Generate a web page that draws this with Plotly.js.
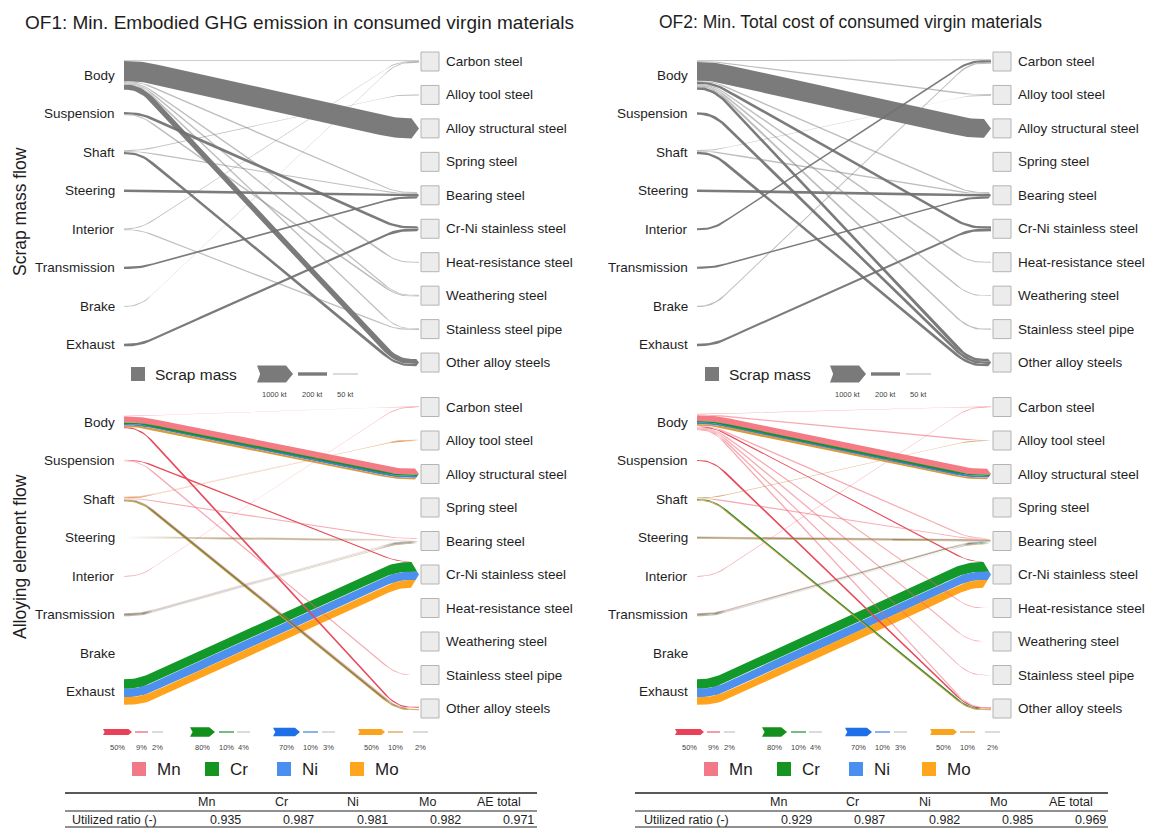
<!DOCTYPE html>
<html>
<head>
<meta charset="utf-8">
<script src="https://cdn.plot.ly/plotly-3.0.1.min.js"></script>
<style>html,body{margin:0;padding:0;background:#ffffff;}#chart{width:1151px;height:828px;}</style>
</head>
<body>
<div id="chart"></div>
<script>
// ================= DATA =================
const sources = ["Body","Suspension","Shaft","Steering","Interior","Transmission","Brake","Exhaust"];
const targets = ["Carbon steel","Alloy tool steel","Alloy structural steel","Spring steel","Bearing steel","Cr-Ni stainless steel","Heat-resistance steel","Weathering steel","Stainless steel pipe","Other alloy steels"];
const elements = ["Mn","Cr","Ni","Mo"];
const panelTitles = ["OF1: Min. Embodied GHG emission in consumed virgin materials","OF2: Min. Total cost of consumed virgin materials"];
const rowTitles = ["Scrap mass flow","Alloying element flow"];

// scrap mass flows, kt  [source, target, value]
const of1Scrap = [
  ["Body","Carbon steel",50],
  ["Body","Alloy structural steel",1180],
  ["Body","Bearing steel",40],
  ["Body","Heat-resistance steel",40],
  ["Body","Weathering steel",40],
  ["Body","Stainless steel pipe",40],
  ["Body","Other alloy steels",300],
  ["Suspension","Cr-Ni stainless steel",140],
  ["Suspension","Weathering steel",50],
  ["Shaft","Alloy tool steel",50],
  ["Shaft","Bearing steel",40],
  ["Shaft","Other alloy steels",130],
  ["Steering","Bearing steel",140],
  ["Interior","Carbon steel",50],
  ["Interior","Stainless steel pipe",40],
  ["Transmission","Bearing steel",130],
  ["Brake","Carbon steel",50],
  ["Exhaust","Cr-Ni stainless steel",160]
];
const of2Scrap = [
  ["Body","Carbon steel",50],
  ["Body","Alloy tool steel",50],
  ["Body","Alloy structural steel",1100],
  ["Body","Bearing steel",60],
  ["Body","Cr-Ni stainless steel",140],
  ["Body","Heat-resistance steel",50],
  ["Body","Weathering steel",50],
  ["Body","Stainless steel pipe",80],
  ["Body","Other alloy steels",150],
  ["Suspension","Other alloy steels",150],
  ["Shaft","Alloy tool steel",50],
  ["Shaft","Bearing steel",50],
  ["Shaft","Other alloy steels",140],
  ["Steering","Bearing steel",150],
  ["Interior","Carbon steel",120],
  ["Transmission","Bearing steel",120],
  ["Brake","Carbon steel",80],
  ["Exhaust","Cr-Ni stainless steel",150]
];

// alloying element flows, % of each element  [source, target, value]
const of1Mn = [
  ["Body","Carbon steel",2],
  ["Body","Alloy structural steel",50],
  ["Body","Other alloy steels",9],
  ["Suspension","Cr-Ni stainless steel",6],
  ["Suspension","Stainless steel pipe",2],
  ["Shaft","Alloy tool steel",2],
  ["Shaft","Bearing steel",2],
  ["Shaft","Other alloy steels",2],
  ["Steering","Bearing steel",3],
  ["Interior","Carbon steel",2],
  ["Transmission","Bearing steel",2]
];
const of1Cr = [
  ["Body","Alloy structural steel",12],
  ["Shaft","Other alloy steels",4],
  ["Steering","Bearing steel",2],
  ["Transmission","Bearing steel",2],
  ["Exhaust","Cr-Ni stainless steel",80]
];
const of1Ni = [
  ["Body","Alloy structural steel",14],
  ["Transmission","Bearing steel",1],
  ["Exhaust","Cr-Ni stainless steel",70]
];
const of1Mo = [
  ["Body","Alloy structural steel",14],
  ["Shaft","Alloy tool steel",5],
  ["Shaft","Other alloy steels",8],
  ["Steering","Bearing steel",2],
  ["Transmission","Bearing steel",3],
  ["Exhaust","Cr-Ni stainless steel",64]
];
const of2Mn = [
  ["Body","Carbon steel",2],
  ["Body","Alloy tool steel",2],
  ["Body","Alloy structural steel",48],
  ["Body","Bearing steel",2],
  ["Body","Cr-Ni stainless steel",5],
  ["Body","Heat-resistance steel",2],
  ["Body","Weathering steel",2],
  ["Body","Stainless steel pipe",2],
  ["Body","Other alloy steels",3],
  ["Suspension","Other alloy steels",9],
  ["Shaft","Bearing steel",2],
  ["Steering","Bearing steel",3],
  ["Interior","Carbon steel",2],
  ["Transmission","Bearing steel",2]
];
const of2Cr = [
  ["Body","Alloy structural steel",12],
  ["Shaft","Other alloy steels",5],
  ["Steering","Bearing steel",2],
  ["Transmission","Bearing steel",2],
  ["Exhaust","Cr-Ni stainless steel",80]
];
const of2Ni = [
  ["Body","Alloy structural steel",14],
  ["Transmission","Bearing steel",1],
  ["Exhaust","Cr-Ni stainless steel",70]
];
const of2Mo = [
  ["Body","Alloy structural steel",14],
  ["Shaft","Alloy tool steel",3],
  ["Shaft","Other alloy steels",9],
  ["Steering","Bearing steel",2],
  ["Transmission","Bearing steel",3],
  ["Exhaust","Cr-Ni stainless steel",64]
];

// legends
const scrapLegendLabel = "Scrap mass";
const scrapLegendValues = [1000, 200, 50];
const scrapLegendTexts = ["1000 kt", "200 kt", "50 kt"];
const mnLegendValues = [50, 9, 2];
const crLegendValues = [80, 10, 4];
const niLegendValues = [70, 10, 3];
const moLegendValues = [50, 10, 2];

// table
const tableColumns = ["Mn","Cr","Ni","Mo","AE total"];
const tableRowLabel = "Utilized ratio (-)";
const of1Utilized = [0.935, 0.987, 0.981, 0.982, 0.971];
const of2Utilized = [0.929, 0.987, 0.982, 0.985, 0.969];

// ================= STYLE / LAYOUT =================
const FONT = "Liberation Sans, Arial, Helvetica, sans-serif";
const TXT = "#1e1e1e";
const W = 1151, H = 828;
const SCRAP_SCALE = 0.017;   // px per kt
const ALLOY_SCALE = 0.12;    // px per %
const elemColors = {
  Mn: {band:"#f47a84", strong:"#e84a5c", light:"rgba(238,100,115,0.55)", legend:"#f27a88", arrow:"#ea4058"},
  Cr: {band:"#12992a", strong:"#1a8f30", light:"rgba(60,120,50,0.75)", legend:"#15941f", arrow:"#13901c"},
  Ni: {band:"#4d90ee", strong:"#3f7fe0", light:"rgba(70,110,200,0.7)", legend:"#4a8ff0", arrow:"#1f6fe8"},
  Mo: {band:"#ffa31c", strong:"#d89a40", light:"rgba(200,150,80,0.8)", legend:"#ffa51e", arrow:"#fba21f"}
};
const panelX = [{xs:124, xt:419, labelR:117}, {xs:697, xt:991, labelR:690}];
const rowY = [{sy0:75, sdy:38.57, ty0:61.5, tdy:33.45}, {sy0:422, sdy:38.57, ty0:407, tdy:33.5}];

const traces = [];
const shapes = [];
const annotations = [];

function ann(text, x, y, o) {
  o = o || {};
  annotations.push({
    text: text, x: x, y: y, xref: "x", yref: "y", showarrow: false,
    xanchor: o.xa || "center", yanchor: o.ya || "middle",
    textangle: o.angle || 0,
    font: {family: FONT, size: o.size || 12.5, color: o.color || TXT}
  });
}

// curve shape: flat - rounded - straight - rounded - flat
const CA = 0.055, CB = 0.075, CR = 0.045, CM = 1 / (1 - CA - CB);
function shapeF(u) {
  if (u <= CA - CR) return [0, 0];
  if (u < CA + CR) { const d = u - CA + CR; return [CM * d * d / (4 * CR), CM * d / (2 * CR)]; }
  if (u <= 1 - CB - CR) return [CM * (u - CA), CM];
  if (u < 1 - CB + CR) { const d = 1 - CB + CR - u; return [1 - CM * d * d / (4 * CR), CM * d / (2 * CR)]; }
  return [1, 0];
}

function buildLinks(groups, scale, minW) {
  const map = new Map(); const links = [];
  groups.forEach((g, gi) => {
    g.list.forEach(([s, t, v]) => {
      const k = s + "|" + t;
      let L = map.get(k);
      if (!L) { L = {s: sources.indexOf(s), t: targets.indexOf(t), bands: []}; map.set(k, L); links.push(L); }
      L.bands.push({g: gi, v: v, w: Math.max(minW, v * scale), color: g.colorFn(v)});
    });
  });
  links.forEach(L => { L.bands.sort((a, b) => a.g - b.g); L.T = L.bands.reduce((a, b) => a + b.w, 0); });
  return links;
}

function drawPanel(links, px, ry) {
  const sy = i => ry.sy0 + i * ry.sdy;
  const ty = j => ry.ty0 + j * ry.tdy;
  const srcTot = sources.map(() => 0), tgtTot = targets.map(() => 0);
  links.forEach(L => { srcTot[L.s] += L.T; tgtTot[L.t] += L.T; });
  const srcCur = srcTot.map((tot, i) => sy(i) - tot / 2);
  const tgtCur = tgtTot.map((tot, j) => ty(j) - tot / 2);
  links.slice().sort((a, b) => a.s - b.s || a.t - b.t).forEach(L => { L.sTop = srcCur[L.s]; srcCur[L.s] += L.T; });
  links.slice().sort((a, b) => a.t - b.t || a.s - b.s).forEach(L => { L.tTop = tgtCur[L.t]; tgtCur[L.t] += L.T; });

  const polys = [];
  const span = px.xt - px.xs;
  links.forEach(L => {
    const cs = L.sTop + L.T / 2, ct = L.tTop + L.T / 2;
    const Hh = tgtTot[L.t] / 2, Yc = ty(L.t);
    const tip = Hh >= 2.5 ? Math.min(0.75 * Hh, 8) : 0;
    const xEnd = px.xt - tip;
    const N = 120;
    let off = 0;
    L.bands.forEach(b => {
      const r1 = off - L.T / 2, r2 = off + b.w - L.T / 2;
      off += b.w;
      const ux = [], uy = [], ly = [];
      for (let i = 0; i <= N; i++) {
        const x = px.xs + (xEnd - px.xs) * i / N;
        const [f, fp] = shapeF((x - px.xs) / span);
        const c = cs + (ct - cs) * f;
        const sl = (ct - cs) * fp / span;
        const k = Math.sqrt(1 + sl * sl);
        ux.push(x); uy.push(c + r1 * k); ly.push(c + r2 * k);
      }
      const X = ux.slice(), Y = uy.slice();
      const yU = ct + r1, yL = ct + r2;
      const tipX = y => tip > 0 ? px.xt - tip * Math.min(1, Math.abs(y - Yc) / Hh) : xEnd;
      X.push(tipX(yU)); Y.push(yU);
      if (tip > 0 && yU < Yc && yL > Yc) { X.push(px.xt); Y.push(Yc); }
      X.push(tipX(yL)); Y.push(yL);
      for (let i = N; i >= 0; i--) { X.push(ux[i]); Y.push(ly[i]); }
      X.push(ux[0]); Y.push(uy[0]);
      polys.push({x: X, y: Y, color: b.color, w: b.w});
    });
  });
  polys.sort((a, b) => b.w - a.w);
  polys.forEach(p => traces.push({
    type: "scatter", mode: "lines", x: p.x, y: p.y, fill: "toself", fillcolor: p.color,
    line: {width: 0, color: p.color}, hoverinfo: "skip", showlegend: false
  }));

  // labels and target boxes
  sources.forEach((s, i) => ann(s, px.labelR, sy(i), {xa: "right", size: 13.5}));
  targets.forEach((t, j) => {
    shapes.push({type: "rect", xref: "x", yref: "y", x0: px.xt + 2, x1: px.xt + 20, y0: ty(j) - 9.5, y1: ty(j) + 9.5,
      fillcolor: "#ececec", line: {color: "#b4b4b4", width: 1}, layer: "above"});
    ann(t, px.xt + 25, ty(j), {xa: "left", size: 13.5});
  });
}

function scrapColor(v) { return v >= 100 ? "rgba(112,112,112,0.92)" : "rgba(125,125,125,0.5)"; }
function elemColorFn(e) { return v => v >= 20 ? elemColors[e].band : (v >= 5 ? elemColors[e].strong : elemColors[e].light); }

function polyTrace(X, Y, color) {
  traces.push({type: "scatter", mode: "lines", x: X, y: Y, fill: "toself", fillcolor: color,
    line: {width: 0, color: color}, hoverinfo: "skip", showlegend: false});
}
function legendArrow(x0, x1, yc, w, color) {
  const tip = w >= 5 ? Math.min(w * 0.6, 7) : 0;
  const notch = w >= 5 ? tip * 0.45 : 0;
  polyTrace([x0, x1 - tip, x1, x1 - tip, x0, x0 + notch, x0], [yc - w / 2, yc - w / 2, yc, yc + w / 2, yc + w / 2, yc, yc - w / 2], color);
}

const scrapData = [of1Scrap, of2Scrap];
const alloyData = [[of1Mn, of1Cr, of1Ni, of1Mo], [of2Mn, of2Cr, of2Ni, of2Mo]];
const utilized = [of1Utilized, of2Utilized];
const legendVals = {Mn: mnLegendValues, Cr: crLegendValues, Ni: niLegendValues, Mo: moLegendValues};

// legend / table layout constants (panel 1, panel 2 shifted)
const scrapLegX = [{sq:131, arrows:[[257,293],[298,327],[333,358]]}, {sq:705, arrows:[[830,866],[871,900],[906,931]]}];
const alloyLegOffsets = [0, 572];
const alloyLegPos = {
  Mn: [[103,132],[135,148],[152,163]],
  Cr: [[190,215],[219,234],[237,250]],
  Ni: [[273,300],[303,318],[322,335]],
  Mo: [[358,385],[388,403],[413,428]]
};
const alloySq = {Mn:132, Cr:205, Ni:277, Mo:350};
const tableX = [
  {x0:65, x1:537, row:70, head:[206,281,353,427,499], val:[225,298,372,445,518]},
  {x0:635, x1:1108, row:642, head:[778,852,925,998,1071], val:[796,869,944,1017,1090]}
];

[0, 1].forEach(p => {
  const px = panelX[p];
  // scrap flows
  const sl = buildLinks([{list: scrapData[p], colorFn: scrapColor}], SCRAP_SCALE, 0.9);
  drawPanel(sl, px, rowY[0]);
  // alloying element flows
  const al = buildLinks(elements.map((e, k) => ({list: alloyData[p][k], colorFn: elemColorFn(e)})), ALLOY_SCALE, 0.75);
  drawPanel(al, px, rowY[1]);

  // title
  if (p === 0) ann(panelTitles[0], 23, 22, {xa: "left", size: 19});
  else ann(panelTitles[1], 850, 22, {xa: "center", size: 17.5});

  // scrap legend
  const sL = scrapLegX[p];
  shapes.push({type: "rect", xref: "x", yref: "y", x0: sL.sq, x1: sL.sq + 14, y0: 367, y1: 381, fillcolor: "#7a7a7a", line: {width: 0}});
  ann(scrapLegendLabel, sL.sq + 22, 374.5, {xa: "left", size: 15.5});
  scrapLegendValues.forEach((v, i) => {
    const [a, b] = sL.arrows[i];
    const w = Math.max(0.9, v * SCRAP_SCALE);
    legendArrow(a, b, 374, w, v >= 100 ? "#7a7a7a" : "rgba(120,120,120,0.6)");
    ann(scrapLegendTexts[i], (a + b) / 2, 394, {size: 7.5, color: "#444"});
  });

  // alloy legend
  const dx = alloyLegOffsets[p];
  elements.forEach(e => {
    legendVals[e].forEach((v, i) => {
      const [a, b] = alloyLegPos[e][i];
      const w = Math.max(0.9, v * ALLOY_SCALE);
      const col = i === 0 ? elemColors[e].arrow : (i === 1 ? elemColors[e].strong : "rgba(140,140,140,0.7)");
      legendArrow(a + dx, b + dx, 732, w, col);
      ann(v + "%", (a + b) / 2 + dx, 747, {size: 7.5, color: "#444"});
    });
    shapes.push({type: "rect", xref: "x", yref: "y", x0: alloySq[e] + dx, x1: alloySq[e] + dx + 14, y0: 762, y1: 776, fillcolor: elemColors[e].legend, line: {width: 0}});
    ann(e, alloySq[e] + dx + 23, 769, {xa: "left", size: 17});
  });

  // table
  const T = tableX[p];
  [[793, 1.6], [811, 1.1], [827, 1.2]].forEach(([y, lw]) => shapes.push({type: "line", xref: "x", yref: "y", x0: T.x0, x1: T.x1, y0: y, y1: y, line: {color: "#222", width: lw}}));
  tableColumns.forEach((c, i) => ann(c, T.head[i], 802, {size: 12.5}));
  ann(tableRowLabel, T.row, 820, {xa: "left", size: 12.5});
  utilized[p].forEach((v, i) => ann(v.toFixed(3), T.val[i], 820, {size: 12.5}));
});

// row titles
ann(rowTitles[0], 20, 212, {angle: -90, size: 17.5});
ann(rowTitles[1], 20, 557, {angle: -90, size: 17.5});

const layout = {
  width: W, height: H, autosize: false,
  margin: {l: 0, r: 0, t: 0, b: 0, pad: 0},
  paper_bgcolor: "#ffffff", plot_bgcolor: "#ffffff",
  xaxis: {range: [0, W], visible: false, fixedrange: true, domain: [0, 1]},
  yaxis: {range: [H, 0], visible: false, fixedrange: true, domain: [0, 1]},
  showlegend: false, hovermode: false,
  shapes: shapes, annotations: annotations
};
Plotly.newPlot("chart", traces, layout, {displayModeBar: false, responsive: false});
</script>
</body>
</html>
